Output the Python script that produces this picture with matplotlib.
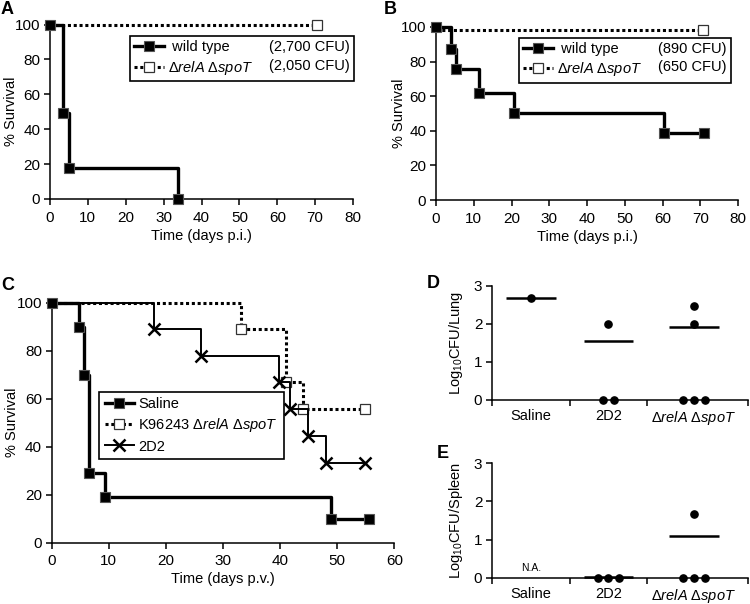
import matplotlib
matplotlib.use("Agg")
import matplotlib.pyplot as plt
from matplotlib.lines import Line2D
import numpy as np

plt.rcParams['font.family'] = ['Liberation Sans', 'DejaVu Sans']
plt.rcParams['mathtext.fontset'] = 'custom'
plt.rcParams['mathtext.rm'] = 'Liberation Sans'
plt.rcParams['mathtext.it'] = 'Liberation Sans:italic'
plt.rcParams['mathtext.bf'] = 'Liberation Sans:bold'

MUT = 'Δ$\\mathit{relA}$ Δ$\\mathit{spoT}$'

# ---------------- data ----------------
# Panel A
a_wt_t = [0, 3.5, 4.9, 33.7]
a_wt_s = [100, 49, 18, 0]
a_mut_t = [0, 70.5]
a_mut_s = [100, 100]
a_cfu = ['(2,700 CFU)', '(2,050 CFU)']

# Panel B
b_wt_t = [0, 4.0, 5.3, 11.3, 20.6, 60.4, 70.9]
b_wt_s = [100, 87, 75.5, 62, 50.5, 39, 39]
b_mut_t = [0, 70.8]
b_mut_s = [98.5, 98.5]
b_cfu = ['(890 CFU)', '(650 CFU)']

# Panel C
c_sal_t = [0, 4.8, 5.7, 6.6, 9.3, 48.9, 55.6]
c_sal_s = [100, 90, 70, 29, 19, 10, 10]
c_k96_t = [0, 33.2, 41.0, 44.0, 54.8]
c_k96_s = [100, 88.9, 66.7, 55.6, 55.6]
c_2d2_t = [0, 17.9, 26.1, 39.8, 41.7, 44.9, 48.0, 54.8]
c_2d2_s = [100, 88.9, 77.8, 66.7, 55.6, 44.4, 33.3, 33.3]
c_labels = ['Saline', 'K96243 ' + MUT, '2D2']

# Panels D/E
groups = ['Saline', '2D2', MUT]
d_points = [[2.67], [1.98, 0, 0], [2.46, 1.98, 0, 0, 0]]
d_means = [2.68, 1.55, 1.92]
e_points = [[], [0, 0, 0], [1.67, 0, 0, 0]]
e_means = [None, 0.03, 1.09]

fig = plt.figure(figsize=(7.5, 6.04), dpi=100)
W, H = 750.0, 604.0


def ax_px(l, t, r, b):
    return fig.add_axes([l / W, 1 - b / H, (r - l) / W, (b - t) / H])


FS = 10.5
TFS = 11


def style(ax):
    for s in ['top', 'right']:
        ax.spines[s].set_visible(False)
    for s in ['left', 'bottom']:
        ax.spines[s].set_linewidth(1.1)
    ax.tick_params(direction='out', length=4.5, width=1.1, labelsize=TFS, pad=2.5)


def km_axes(ax, xmax, xstep, xlabel):
    style(ax)
    ax.set_xlim(0, xmax)
    ax.set_ylim(0, 100)
    ax.set_xticks(np.arange(0, xmax + 1, xstep))
    ax.set_yticks(np.arange(0, 101, 20))
    ax.tick_params(axis='x', pad=4)
    ax.set_xlabel(xlabel, fontsize=FS, labelpad=3)
    ax.set_ylabel('% Survival', fontsize=FS, labelpad=2)


thick = dict(color='black', lw=2.4, drawstyle='steps-post', marker='s', ms=6.5,
             mfc='black', mec='#555555', mew=0.8, clip_on=False, zorder=4)
dotted = dict(color='black', lw=2.2, ls=(0, (1, 0.9)), drawstyle='steps-post', marker='s',
              ms=6.5, mfc='white', mec='#333333', mew=0.9, clip_on=False, zorder=3)
thin_x = dict(color='black', lw=1.4, drawstyle='steps-post', marker='x', ms=8,
              mec='black', mew=1.8, clip_on=False, zorder=3)


def two_col_legend(ax, handles, labels, cfus, anchor):
    blank = Line2D([], [], alpha=0)
    leg = ax.legend(handles + [blank, blank], labels + cfus, ncol=2,
                    loc='upper left', bbox_to_anchor=(anchor[0] / W, 1 - anchor[1] / H),
                    bbox_transform=fig.transFigure, borderaxespad=0, fontsize=FS,
                    handlelength=2.0, handletextpad=0.3, columnspacing=-1.2,
                    labelspacing=0.3, borderpad=0.3, fancybox=False, framealpha=1,
                    edgecolor='black', numpoints=1)
    leg.get_frame().set_linewidth(1.2)
    return leg


# ---------------- Panel A ----------------
axA = ax_px(50, 24.5, 353, 199)
km_axes(axA, 80, 10, 'Time (days p.i.)')
h2, = axA.plot(a_mut_t, a_mut_s, markevery=[1], **dotted)
h1, = axA.plot(a_wt_t, a_wt_s, **thick)
two_col_legend(axA, [h1, h2], [' wild type', MUT], a_cfu, (130, 36))
axA.yaxis.set_label_coords(-0.106, 0.5)

# ---------------- Panel B ----------------
axB = ax_px(436, 27, 738, 200)
km_axes(axB, 80, 10, 'Time (days p.i.)')
h2, = axB.plot(b_mut_t, b_mut_s, markevery=[1], **dotted)
h1, = axB.plot(b_wt_t, b_wt_s, **thick)
two_col_legend(axB, [h1, h2], [' wild type', MUT], b_cfu, (519, 37.5))
axB.yaxis.set_label_coords(-0.099, 0.5)

# ---------------- Panel C ----------------
axC = ax_px(51.7, 302.5, 394.3, 542.5)
km_axes(axC, 60, 10, 'Time (days p.v.)')
hk, = axC.plot(c_k96_t, c_k96_s, markevery=list(range(1, len(c_k96_t))), **dotted)
hx, = axC.plot(c_2d2_t, c_2d2_s, markevery=list(range(1, len(c_2d2_t))), **thin_x)
hs, = axC.plot(c_sal_t, c_sal_s, **thick)
legC = axC.legend([hs, hk, hx], c_labels, loc='upper left',
                  bbox_to_anchor=(99 / W, 1 - 391.5 / H), bbox_transform=fig.transFigure,
                  borderaxespad=0, fontsize=FS, handlelength=2.0, handletextpad=0.3,
                  labelspacing=0.35, borderpad=0.4, fancybox=False, framealpha=1,
                  edgecolor='black', numpoints=1)
legC.get_frame().set_linewidth(1.2)
axC.yaxis.set_label_coords(-0.095, 0.5)

# ---------------- Panels D/E ----------------
cat_x = [0, 1, 2.1]
bounds = [-0.5, 0.5, 1.5, 2.8]


def dot_axes(ax, points, means, ylabel):
    style(ax)
    ax.set_xlim(-0.5, 2.8)
    ax.set_ylim(0, 3)
    ax.set_yticks([0, 1, 2, 3])
    ax.set_xticks(bounds)
    ax.set_xticklabels([])
    ax.set_xticks(cat_x, minor=True)
    ax.set_xticklabels(groups, minor=True, fontsize=FS)
    ax.tick_params(axis='x', which='minor', length=0, pad=7)
    ax.set_ylabel(ylabel, fontsize=FS, labelpad=4)
    for cx, pts, m in zip(cat_x, points, means):
        vals = {}
        for v in pts:
            vals.setdefault(v, 0)
            vals[v] += 1
        xs, ys = [], []
        for v, n in vals.items():
            offs = (np.arange(n) - (n - 1) / 2.0) * 0.14
            xs.extend(cx + offs)
            ys.extend([v] * n)
        if xs:
            ax.plot(xs, ys, 'o', color='black', ms=5.2, clip_on=False, zorder=4)
        if m is not None:
            ax.plot([cx - 0.32, cx + 0.32], [m, m], color='black', lw=1.8,
                    solid_capstyle='butt', clip_on=False, zorder=3)


axD = ax_px(492, 285.7, 748, 399.7)
dot_axes(axD, d_points, d_means, 'Log$_{10}$CFU/Lung')
axD.yaxis.set_label_coords(-0.105, 0.5)

axE = ax_px(492, 463.3, 748, 577.7)
dot_axes(axE, e_points, e_means, 'Log$_{10}$CFU/Spleen')
axE.yaxis.set_label_coords(-0.105, 0.5)
axE.text(cat_x[0], 0.12, 'N.A.', ha='center', va='bottom', fontsize=7.5)

# ---------------- Panel letters ----------------
for letter, (px, py) in {'A': (1, 9), 'B': (384, 9), 'C': (1, 285), 'D': (427, 284),
                         'E': (437, 454)}.items():
    fig.text(px / W, 1 - py / H, letter, fontsize=13, fontweight='bold',
             ha='left', va='center')

fig.savefig('out.png', dpi=100)
